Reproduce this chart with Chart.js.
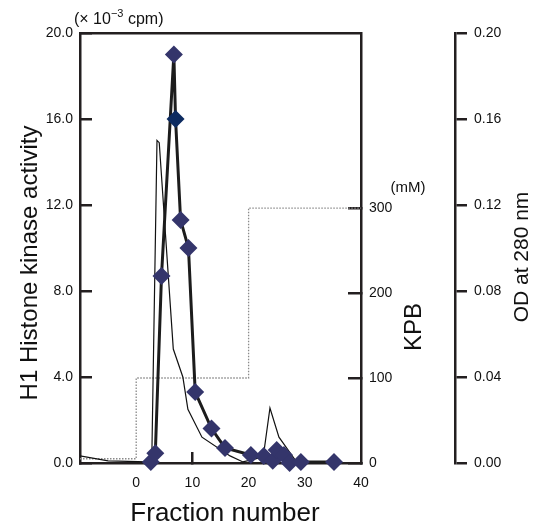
<!DOCTYPE html>
<html>
<head>
<meta charset="utf-8">
<title>H1 histone kinase elution</title>
<script src="https://cdn.jsdelivr.net/npm/chart.js@4/dist/chart.umd.min.js"></script>
<style>
    body { margin: 0; background: #fff; }
    canvas { display: block; }
</style>
</head>
<body>
<canvas id="elutionChart" width="534" height="530"></canvas>
<script>
// H1 histone kinase activity (x 10^-3 cpm) per fraction
const kinaseFraction = [2.6, 3.4, 4.5, 6.7, 7.0, 7.9, 9.3, 10.5, 13.4, 15.8, 20.4, 22.7, 24.3, 25.0, 26.3, 27.3, 29.3, 35.2];
const kinaseActivity = [0.05, 0.45, 8.7, 19.0, 16.0, 11.3, 10.0, 3.3, 1.6, 0.7, 0.37, 0.33, 0.1, 0.6, 0.37, 0.0, 0.05, 0.05];

// protein, OD at 280 nm
const odFraction = [-10, -5, 2.1, 2.8, 3.7, 4.1, 6.6, 8.3, 9.2, 11.7, 16.7, 19.0, 22.6, 23.8, 25.4, 28.3];
const odValue = [0.0033, 0.001, 0.0005, 0.006, 0.150, 0.149, 0.053, 0.040, 0.025, 0.012, 0.0033, 0.0005, 0.0028, 0.0256, 0.012, 0.0014];

// KPB step gradient (mM)
const kpbFraction = [-10, 0, 20, 40];
const kpbConc = [5, 100, 300, 300];

const xTicks = [0, 10, 20, 30, 40];
const kpbTicks = [0, 100, 200, 300];

const axisColor = '#231f20';
const fontFamily = '"Liberation Sans", Arial, Helvetica, sans-serif';

function toPoints(xs, ys) {
    return xs.map((x, i) => ({ x: x, y: ys[i] }));
}

// axis titles that Chart.js can't rotate the way the figure does
const labelsPlugin = {
    id: 'figureLabels',
    afterDraw(chart) {
        const ctx = chart.ctx;
        ctx.save();
        ctx.fillStyle = '#111';

        ctx.textBaseline = 'alphabetic';
        ctx.textAlign = 'left';
        ctx.font = '16px ' + fontFamily;
        let x = 74;
        ctx.fillText('(\u00d7 10', x, 24);
        x += ctx.measureText('(\u00d7 10').width;
        ctx.font = '11px ' + fontFamily;
        ctx.fillText('\u22123', x, 17);
        x += ctx.measureText('\u22123').width;
        ctx.font = '16px ' + fontFamily;
        ctx.fillText(' cpm)', x, 24);

        ctx.textAlign = 'center';
        ctx.font = '15px ' + fontFamily;
        ctx.fillText('(mM)', 408, 192);

        ctx.textBaseline = 'middle';
        ctx.font = '26px ' + fontFamily;
        ctx.fillText('Fraction number', 225, 514);

        const vertical = [
            ['H1 Histone kinase activity', 30, 263, 24],
            ['KPB', 414, 327, 24],
            ['OD at 280 nm', 522, 257, 21]
        ];
        vertical.forEach(v => {
            ctx.save();
            ctx.translate(v[1], v[2]);
            ctx.rotate(-Math.PI / 2);
            ctx.font = v[3] + 'px ' + fontFamily;
            ctx.fillText(v[0], 0, 0);
            ctx.restore();
        });
        ctx.restore();
    }
};

new Chart(document.getElementById('elutionChart'), {
    type: 'line',
    data: {
        datasets: [{
            label: 'H1 kinase',
            data: toPoints(kinaseFraction, kinaseActivity),
            xAxisID: 'x',
            yAxisID: 'y',
            borderColor: '#1c1c1c',
            borderWidth: 3,
            pointStyle: 'rectRot',
            pointRadius: 9,
            pointBorderWidth: 0,
            pointBackgroundColor: ctx => ctx.dataIndex === 4 ? '#0d2b60' : '#34356b',
            clip: false
        }, {
            label: 'OD 280',
            data: toPoints(odFraction, odValue),
            xAxisID: 'x',
            yAxisID: 'od',
            borderColor: '#111',
            borderWidth: 1.2,
            pointRadius: 0
        }, {
            label: 'KPB',
            data: toPoints(kpbFraction, kpbConc),
            xAxisID: 'x',
            yAxisID: 'kpb',
            stepped: true,
            borderColor: '#8a8a8a',
            borderWidth: 1.3,
            borderDash: [1.5, 1.5],
            pointRadius: 0
        }]
    },
    options: {
        responsive: false,
        animation: false,
        layout: { padding: 0 },
        plugins: {
            legend: { display: false },
            tooltip: { enabled: false }
        },
        scales: {
            x: {
                type: 'linear',
                position: 'bottom',
                min: -10,
                max: 40,
                afterBuildTicks: scale => { scale.ticks = xTicks.map(v => ({ value: v })); },
                afterFit: scale => { scale.height = 67; },
                ticks: {
                    padding: 23,
                    maxRotation: 0,
                    color: '#111',
                    font: { family: fontFamily, size: 14 }
                },
                grid: {
                    drawOnChartArea: false,
                    tickLength: -11,
                    lineWidth: 2.5,
                    color: ctx => ctx.tick && ctx.tick.value === 10 ? axisColor : 'rgba(0,0,0,0)'
                },
                border: { color: axisColor, width: 2.5 }
            },
            x2: {
                type: 'linear',
                position: 'top',
                min: -10,
                max: 40,
                afterFit: scale => { scale.height = 33; },
                ticks: { display: false },
                grid: { display: false, drawTicks: false },
                border: { color: axisColor, width: 2.5 }
            },
            y: {
                type: 'linear',
                position: 'left',
                min: 0,
                max: 20,
                afterFit: scale => { scale.width = 80; },
                ticks: {
                    stepSize: 4,
                    padding: 19,
                    color: '#111',
                    font: { family: fontFamily, size: 14 },
                    callback: v => v.toFixed(1)
                },
                grid: { drawOnChartArea: false, tickLength: -12, lineWidth: 2.5, color: axisColor },
                border: { color: axisColor, width: 2.5 }
            },
            kpb: {
                type: 'linear',
                position: 'right',
                weight: 1,
                min: 0,
                max: 506,
                afterBuildTicks: scale => { scale.ticks = kpbTicks.map(v => ({ value: v })); },
                afterFit: scale => { scale.width = 94; },
                ticks: {
                    padding: 21,
                    color: '#111',
                    font: { family: fontFamily, size: 14 }
                },
                grid: { drawOnChartArea: false, tickLength: -13, lineWidth: 2.5, color: axisColor },
                border: { color: axisColor, width: 2.5 }
            },
            od: {
                type: 'linear',
                position: 'right',
                weight: 2,
                min: 0,
                max: 0.2,
                afterFit: scale => { scale.width = 79; },
                ticks: {
                    stepSize: 0.04,
                    padding: 7,
                    color: '#111',
                    font: { family: fontFamily, size: 14 },
                    callback: v => v.toFixed(2)
                },
                grid: { drawOnChartArea: false, tickLength: 12, lineWidth: 2.5, color: axisColor },
                border: { color: axisColor, width: 2.5 }
            }
        }
    },
    plugins: [labelsPlugin]
});
</script>
</body>
</html>
